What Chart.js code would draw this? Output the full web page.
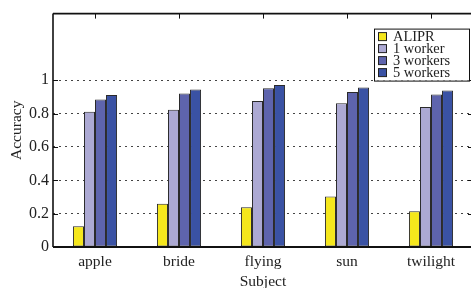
<!DOCTYPE html>
<html>
<head>
<meta charset="utf-8">
<script src="https://cdn.jsdelivr.net/npm/chart.js@4.4.0/dist/chart.umd.min.js"></script>
<style>
html,body{margin:0;padding:0;overflow:hidden;background:#fff;}
#wrap{width:475px;height:288px;position:relative;}
</style>
</head>
<body>
<div id="wrap"><canvas id="c"></canvas></div>
<script>
const categories = ['apple', 'bride', 'flying', 'sun', 'twilight'];
const seriesNames = ['ALIPR', '1 worker', '3 workers', '5 workers'];
const alipr = [0.125, 0.26, 0.238, 0.303, 0.214];
const oneWorker = [0.812, 0.824, 0.876, 0.862, 0.84];
const threeWorkers = [0.884, 0.92, 0.952, 0.93, 0.914];
const fiveWorkers = [0.912, 0.944, 0.972, 0.956, 0.938];
const yTickLabels = [0, 0.2, 0.4, 0.6, 0.8, 1];

const colors = ['#f5e71c', '#aca9d3', '#5e64ad', '#3a52a4'];
const serif = '"Liberation Serif", "DejaVu Serif", serif';

const frameAndLegend = {
  id: 'frameAndLegend',
  afterDatasetsDraw(chart) {
    const ctx = chart.ctx;
    const a = chart.chartArea;
    const xs = chart.scales.x;
    const ys = chart.scales.y;
    ctx.save();
    ctx.strokeStyle = '#111';
    ctx.lineWidth = 1;
    categories.forEach((c, i) => {
      const px = Math.round(xs.getPixelForValue(i)) + 0.5;
      ctx.beginPath(); ctx.moveTo(px, a.top); ctx.lineTo(px, a.top + 5); ctx.stroke();
    });
    yTickLabels.forEach(v => {
      const py = Math.round(ys.getPixelForValue(v)) + 0.5;
      ctx.beginPath(); ctx.moveTo(a.right - 5, py); ctx.lineTo(a.right, py); ctx.stroke();
      ctx.beginPath(); ctx.moveTo(a.left, py); ctx.lineTo(a.left + 5, py); ctx.stroke();
    });
    ctx.lineWidth = 1.6;
    ctx.beginPath(); ctx.moveTo(a.left, a.top); ctx.lineTo(a.right, a.top); ctx.stroke();
    ctx.beginPath(); ctx.moveTo(a.left, a.top); ctx.lineTo(a.left, a.bottom); ctx.stroke();
    ctx.lineWidth = 2;
    ctx.beginPath(); ctx.moveTo(a.left, a.bottom); ctx.lineTo(a.right, a.bottom); ctx.stroke();

    // legend
    const bx = a.right - 99, by = a.top + 15, bw = 95, bh = 52;
    ctx.fillStyle = '#fff';
    ctx.fillRect(bx, by, bw, bh);
    ctx.lineWidth = 1;
    ctx.strokeStyle = '#111';
    ctx.strokeRect(bx + 0.5, by + 0.5, bw, bh);
    ctx.font = '14.4px ' + serif;
    ctx.textBaseline = 'middle';
    ctx.textAlign = 'left';
    chart.data.datasets.forEach((ds, i) => {
      const cy = by + 8 + i * 12;
      ctx.fillStyle = ds.backgroundColor;
      ctx.fillRect(bx + 4.5, cy - 4, 8, 8);
      ctx.strokeStyle = '#222';
      ctx.strokeRect(bx + 4.5, cy - 4, 8, 8);
      ctx.fillStyle = '#222';
      ctx.fillText(ds.label, bx + 19, cy + 0.5);
    });
    ctx.restore();
  }
};

const datasets = [alipr, oneWorker, threeWorkers, fiveWorkers].map((d, i) => ({
  label: seriesNames[i],
  data: d,
  backgroundColor: colors[i],
  borderColor: '#2a2a2a',
  borderWidth: 1,
  borderSkipped: false,
  categoryPercentage: 0.525,
  barPercentage: 1.0
}));

new Chart(document.getElementById('c'), {
  type: 'bar',
  data: { labels: categories, datasets: datasets },
  options: {
    responsive: true,
    maintainAspectRatio: false,
    animation: false,
    layout: { padding: { top: 13, right: 2, left: 0, bottom: 0 } },
    plugins: { legend: { display: false }, tooltip: { enabled: false } },
    scales: {
      x: {
        offset: true,
        grid: { display: false, drawTicks: false },
        border: { display: false },
        ticks: { font: { family: serif, size: 15.5 }, color: '#222', padding: 6 },
        title: { display: true, text: 'Subject', font: { family: serif, size: 15.5, lineHeight: 1 }, color: '#222', padding: { top: 0, bottom: -2 } },
        afterFit(s) { s.height = 41; }
      },
      y: {
        min: 0, max: 1.4,
        afterBuildTicks(s) { s.ticks = [0, 0.2, 0.4, 0.6, 0.8, 1, 1.2, 1.4].map(v => ({ value: v })); },
        grid: {
          drawTicks: false,
          color: c => (c.tick && c.tick.value > 0.01 && c.tick.value < 1.01) ? '#444' : 'rgba(0,0,0,0)',
          lineWidth: 1
        },
        border: { display: false, dash: [2, 4] },
        ticks: {
          font: { family: serif, size: 16 },
          color: '#222',
          padding: 4,
          callback: v => (yTickLabels.some(t => Math.abs(t - v) < 1e-6) ? String(Math.round(v * 10) / 10) : '')
        },
        title: { display: true, text: 'Accuracy', font: { family: serif, size: 15.5, lineHeight: 1 }, color: '#222', padding: { top: 9, bottom: 0 } },
        afterFit(s) { s.width = 53; }
      }
    }
  },
  plugins: [frameAndLegend]
});
</script>
</body>
</html>
